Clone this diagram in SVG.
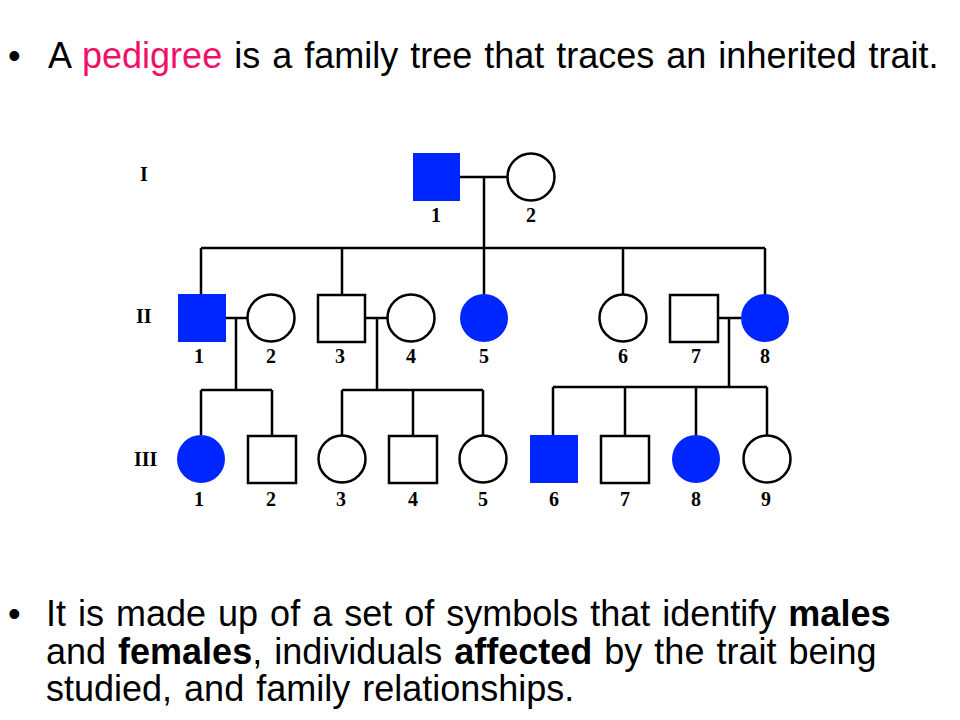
<svg xmlns="http://www.w3.org/2000/svg" width="960" height="720" viewBox="0 0 960 720">
<style>
.t{font-family:"Liberation Sans",Arial,sans-serif;font-size:36px;fill:#000;word-spacing:2px}
.n{font-family:"Liberation Serif","Times New Roman",serif;font-size:20px;font-weight:bold;text-anchor:middle}
.g{font-family:"Liberation Serif","Times New Roman",serif;font-size:20px;font-weight:bold}
.o{fill:#fff;stroke:#000;stroke-width:2.5}
.a{fill:#0026ff;stroke:none}
.l{stroke:#000;stroke-width:2.5;fill:none}
</style>
<rect width="960" height="720" fill="#fff"/>
<text class="t" x="8" y="68">•</text>
<text class="t" x="48" y="68">A <tspan fill="#f0106a">pedigree</tspan> is a family tree that traces an inherited trait.</text>
<text class="g" x="140" y="181">I</text>
<text class="g" x="136" y="323">II</text>
<text class="g" x="134" y="466">III</text>
<g id="connectors" class="l">
<path d="M460 177H508M484 177V248M201 248H765M201 248V294M342 248V294M484 248V294M623 248V294M765 248V294"/>
<path d="M226 318H247M236 318V390M201 390H272M201 390V435M272 390V435"/>
<path d="M365 318H387M377 318V390M342 390H483M342 390V435M413 390V435M483 390V435"/>
<path d="M718 318H741M729 318V387M553 387H767M553 387V435M625 387V435M696 387V435M767 387V435"/>
</g>
<g id="I1"><rect class="a" x="413" y="153" width="47" height="48"/><text class="n" x="436" y="222">1</text></g>
<g id="I2"><circle class="o" cx="531" cy="177" r="23.5"/><text class="n" x="531" y="222">2</text></g>
<g id="II1"><rect class="a" x="178" y="294" width="48" height="48"/><text class="n" x="199" y="363">1</text></g>
<g id="II2"><circle class="o" cx="271" cy="318" r="23.5"/><text class="n" x="271" y="363">2</text></g>
<g id="II3"><rect class="o" x="318" y="295" width="47" height="47"/><text class="n" x="340" y="363">3</text></g>
<g id="II4"><circle class="o" cx="411" cy="318" r="23.5"/><text class="n" x="411" y="363">4</text></g>
<g id="II5"><circle class="a" cx="484" cy="318" r="24"/><text class="n" x="484" y="363">5</text></g>
<g id="II6"><circle class="o" cx="623" cy="318" r="23.5"/><text class="n" x="623" y="363">6</text></g>
<g id="II7"><rect class="o" x="670" y="295" width="48" height="47"/><text class="n" x="696" y="363">7</text></g>
<g id="II8"><circle class="a" cx="765" cy="318" r="24"/><text class="n" x="765" y="363">8</text></g>
<g id="III1"><circle class="a" cx="201" cy="459" r="24"/><text class="n" x="199" y="506">1</text></g>
<g id="III2"><rect class="o" x="248" y="436" width="48" height="47"/><text class="n" x="271" y="506">2</text></g>
<g id="III3"><circle class="o" cx="342" cy="459" r="23.5"/><text class="n" x="341" y="506">3</text></g>
<g id="III4"><rect class="o" x="389" y="436" width="48" height="47"/><text class="n" x="413" y="506">4</text></g>
<g id="III5"><circle class="o" cx="483" cy="459" r="23.5"/><text class="n" x="483" y="506">5</text></g>
<g id="III6"><rect class="a" x="530" y="435" width="48" height="48"/><text class="n" x="554" y="506">6</text></g>
<g id="III7"><rect class="o" x="601" y="436" width="48" height="47"/><text class="n" x="625" y="506">7</text></g>
<g id="III8"><circle class="a" cx="696" cy="459" r="24"/><text class="n" x="696" y="506">8</text></g>
<g id="III9"><circle class="o" cx="767" cy="459" r="23.5"/><text class="n" x="766" y="506">9</text></g>
<text class="t" x="8" y="626">•</text>
<text class="t" x="46" y="626">It is made up of a set of symbols that identify <tspan font-weight="bold">males</tspan></text>
<text class="t" x="46" y="664">and <tspan font-weight="bold">females</tspan>, individuals <tspan font-weight="bold">affected</tspan> by the trait being</text>
<text class="t" x="46" y="701">studied, and family relationships.</text>
</svg>
